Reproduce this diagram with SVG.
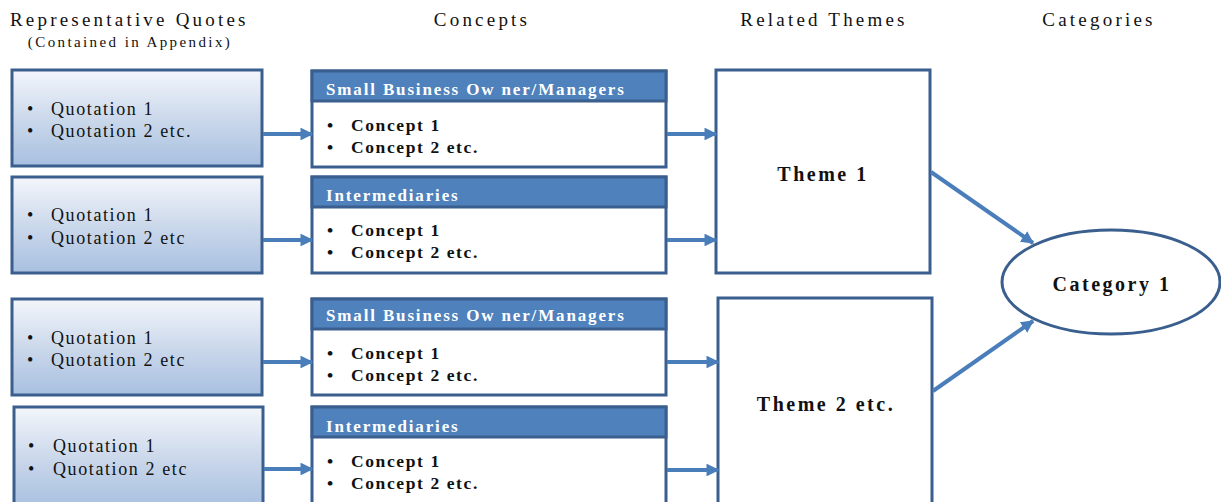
<svg xmlns="http://www.w3.org/2000/svg" width="1221" height="502" viewBox="0 0 1221 502">
  <defs>
    <linearGradient id="quoteFill" x1="0" y1="0" x2="0" y2="1">
      <stop offset="0" stop-color="#F3F6FB"/>
      <stop offset="0.55" stop-color="#C8D6EA"/>
      <stop offset="1" stop-color="#A8C0E0"/>
    </linearGradient>
    <marker id="arrow" viewBox="0 0 10 10" refX="9" refY="5" markerWidth="3.2" markerHeight="3.2" orient="auto" markerUnits="strokeWidth">
      <path d="M0,0 L10,5 L0,10 z" fill="#4A7EBB"/>
    </marker>
  </defs>
  <style>
    .head { font-family: "Liberation Serif", serif; font-size: 19px; letter-spacing: 3.2px; fill: #111; }
    .sub { font-family: "Liberation Serif", serif; font-size: 15px; letter-spacing: 2.4px; fill: #111; }
    .quote-box { fill: url(#quoteFill); stroke: #3A5F8E; stroke-width: 3; }
    .quote { font-family: "Liberation Serif", serif; font-size: 18px; letter-spacing: 1.6px; fill: #111; }
    .concept-box { fill: #FFFFFF; stroke: #3A5F8E; stroke-width: 3; }
    .concept-head { fill: #4F81BD; stroke: #3A5F8E; stroke-width: 3; }
    .head-label { font-family: "Liberation Serif", serif; font-size: 17px; font-weight: bold; letter-spacing: 1.85px; fill: #FFFFFF; }
    .concept { font-family: "Liberation Serif", serif; font-size: 17.5px; font-weight: bold; letter-spacing: 1.6px; fill: #111; }
    .theme-box { fill: #FFFFFF; stroke: #3A5F8E; stroke-width: 3; }
    .theme { font-family: "Liberation Serif", serif; font-size: 20px; font-weight: bold; letter-spacing: 2.5px; fill: #111; text-anchor: middle; }
    .link { stroke: #4A7EBB; stroke-width: 4; fill: none; marker-end: url(#arrow); }
  </style>

  <!-- column headings -->
  <g id="headings">
    <text class="head" x="10" y="26">Representative Quotes</text>
    <text class="sub" x="130" y="47" text-anchor="middle">(Contained in Appendix)</text>
    <text class="head" x="482" y="26" text-anchor="middle">Concepts</text>
    <text class="head" x="824" y="26" text-anchor="middle">Related Themes</text>
    <text class="head" x="1099" y="26" text-anchor="middle">Categories</text>
  </g>

  <!-- quotation boxes -->
  <g id="quotes-1">
    <rect class="quote-box" x="12" y="70" width="250" height="96"/>
    <text class="quote" x="27" y="115">•</text><text class="quote" x="51" y="115">Quotation 1</text>
    <text class="quote" x="27" y="137">•</text><text class="quote" x="51" y="137">Quotation 2 etc.</text>
  </g>
  <g id="quotes-2">
    <rect class="quote-box" x="12" y="177" width="250" height="96"/>
    <text class="quote" x="27" y="221">•</text><text class="quote" x="51" y="221">Quotation 1</text>
    <text class="quote" x="27" y="244">•</text><text class="quote" x="51" y="244">Quotation 2 etc</text>
  </g>
  <g id="quotes-3">
    <rect class="quote-box" x="12" y="299" width="250" height="96"/>
    <text class="quote" x="27" y="344">•</text><text class="quote" x="51" y="344">Quotation 1</text>
    <text class="quote" x="27" y="366">•</text><text class="quote" x="51" y="366">Quotation 2 etc</text>
  </g>
  <g id="quotes-4">
    <rect class="quote-box" x="14" y="407" width="249" height="100"/>
    <text class="quote" x="28" y="452">•</text><text class="quote" x="53" y="452">Quotation 1</text>
    <text class="quote" x="28" y="475">•</text><text class="quote" x="53" y="475">Quotation 2 etc</text>
  </g>

  <!-- concept boxes -->
  <g id="concepts-1">
    <rect class="concept-box" x="312" y="71" width="354" height="96"/>
    <rect class="concept-head" x="312" y="71" width="354" height="30"/>
    <text class="head-label" x="326" y="95">Small Business Ow ner/Managers</text>
    <text class="concept" x="327" y="131">•</text><text class="concept" x="351" y="131">Concept 1</text>
    <text class="concept" x="327" y="153">•</text><text class="concept" x="351" y="153">Concept 2 etc.</text>
  </g>
  <g id="concepts-2">
    <rect class="concept-box" x="312" y="177" width="354" height="96"/>
    <rect class="concept-head" x="312" y="177" width="354" height="30"/>
    <text class="head-label" x="326" y="201">Intermediaries</text>
    <text class="concept" x="327" y="236">•</text><text class="concept" x="351" y="236">Concept 1</text>
    <text class="concept" x="327" y="258">•</text><text class="concept" x="351" y="258">Concept 2 etc.</text>
  </g>
  <g id="concepts-3">
    <rect class="concept-box" x="312" y="299" width="354" height="96"/>
    <rect class="concept-head" x="312" y="299" width="354" height="30"/>
    <text class="head-label" x="326" y="321">Small Business Ow ner/Managers</text>
    <text class="concept" x="327" y="359">•</text><text class="concept" x="351" y="359">Concept 1</text>
    <text class="concept" x="327" y="381">•</text><text class="concept" x="351" y="381">Concept 2 etc.</text>
  </g>
  <g id="concepts-4">
    <rect class="concept-box" x="312" y="407" width="354" height="100"/>
    <rect class="concept-head" x="312" y="407" width="354" height="30"/>
    <text class="head-label" x="326" y="432">Intermediaries</text>
    <text class="concept" x="327" y="467">•</text><text class="concept" x="351" y="467">Concept 1</text>
    <text class="concept" x="327" y="489">•</text><text class="concept" x="351" y="489">Concept 2 etc.</text>
  </g>

  <!-- theme boxes -->
  <g id="theme-1">
    <rect class="theme-box" x="716" y="70" width="214" height="203"/>
    <text class="theme" x="823" y="181">Theme 1</text>
  </g>
  <g id="theme-2">
    <rect class="theme-box" x="718" y="298" width="214" height="210"/>
    <text class="theme" x="826" y="411">Theme 2 etc.</text>
  </g>

  <!-- category -->
  <g id="category-1">
    <ellipse cx="1111" cy="282" rx="109" ry="52" fill="#FFFFFF" stroke="#3A5F8E" stroke-width="3"/>
    <text class="theme" x="1112" y="291">Category 1</text>
  </g>

  <!-- connectors -->
  <g id="connectors">
    <line class="link" x1="263" y1="134" x2="312" y2="134"/>
    <line class="link" x1="263" y1="240" x2="312" y2="240"/>
    <line class="link" x1="263" y1="362" x2="312" y2="362"/>
    <line class="link" x1="264" y1="469" x2="312" y2="469"/>
    <line class="link" x1="667" y1="134" x2="716" y2="134"/>
    <line class="link" x1="667" y1="240" x2="716" y2="240"/>
    <line class="link" x1="667" y1="362" x2="718" y2="362"/>
    <line class="link" x1="667" y1="470" x2="718" y2="470"/>
    <line class="link" x1="931" y1="172" x2="1033" y2="243"/>
    <line class="link" x1="933" y1="391" x2="1033" y2="321"/>
  </g>
</svg>
